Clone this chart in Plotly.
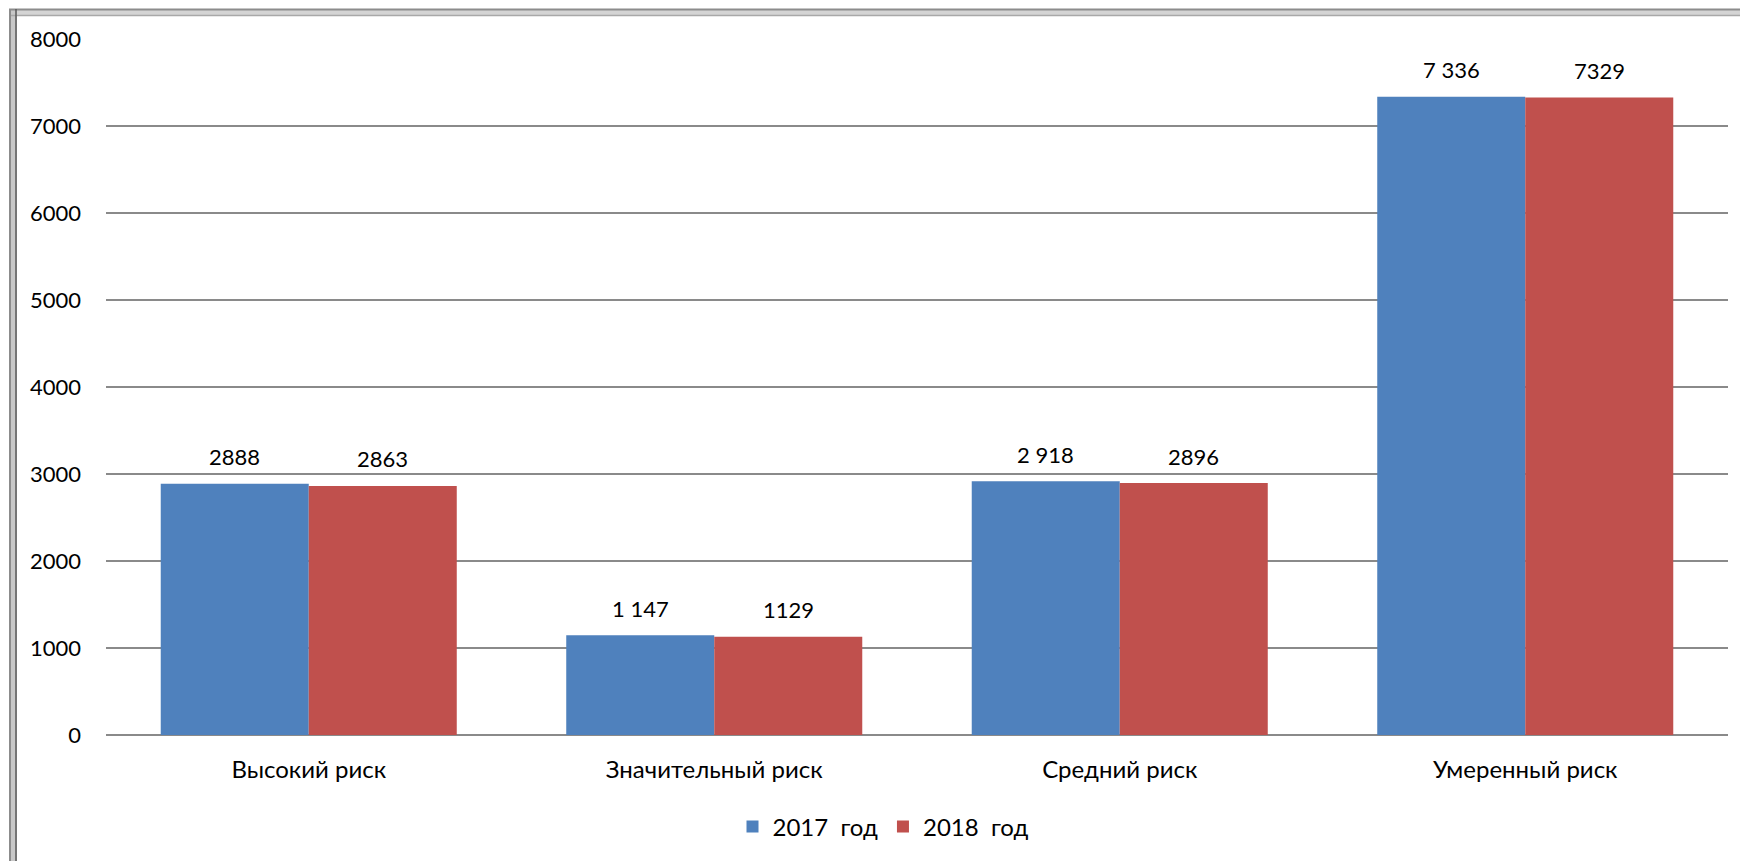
import plotly.graph_objects as go

# Data
categories = ["Высокий риск", "Значительный риск", "Средний риск", "Умеренный риск"]
values_2017 = [2888, 1147, 2918, 7336]
values_2018 = [2863, 1129, 2896, 7329]
labels_2017 = ["2888", "1 147", "2 918", "7 336"]
labels_2018 = ["2863", "1129", "2896", "7329"]
series_names = ["2017  год", "2018  год"]
y_ticks = [0, 1000, 2000, 3000, 4000, 5000, 6000, 7000, 8000]

W, H = 1740, 861
ML, MR, MT, MB = 106, 12, 39, 126
PW, PH = W - ML - MR, H - MT - MB

FONT = "Lato"
BLUE = "#4F81BD"
RED = "#C0504D"
GRID = "#8a8a8a"


def px_x(px):
    return (px - ML) / PW


def px_y(py):
    return (H - MB - py) / PH


fig = go.Figure()
fig.add_bar(x=categories, y=values_2017, name=series_names[0],
            marker=dict(color=BLUE, line=dict(width=0)))
fig.add_bar(x=categories, y=values_2018, name=series_names[1],
            marker=dict(color=RED, line=dict(width=0)))

# value labels above each bar
bar_half = PW / len(categories) * (1 - 0.27) / 4
annotations = []
for cat, v, t in zip(categories, values_2017, labels_2017):
    annotations.append(dict(x=cat, y=v, text=t, xref="x", yref="y", showarrow=False,
                            xshift=-bar_half, yshift=27, yanchor="middle",
                            font=dict(family=FONT, size=22, color="black")))
for cat, v, t in zip(categories, values_2018, labels_2018):
    annotations.append(dict(x=cat, y=v, text=t, xref="x", yref="y", showarrow=False,
                            xshift=bar_half, yshift=27, yanchor="middle",
                            font=dict(family=FONT, size=22, color="black")))

# bevelled frame along the top and left edges
shapes = []
def hline(py, color, w):
    shapes.append(dict(type="line", xref="paper", yref="paper",
                       x0=px_x(9), x1=px_x(W + 5), y0=px_y(py), y1=px_y(py),
                       line=dict(color=color, width=w), layer="above"))
def vline(px, color, w):
    shapes.append(dict(type="line", xref="paper", yref="paper",
                       x0=px_x(px), x1=px_x(px), y0=px_y(9), y1=px_y(H + 5),
                       line=dict(color=color, width=w), layer="above"))

shapes.append(dict(type="rect", xref="paper", yref="paper",
                   x0=px_x(9), x1=px_x(W + 5), y0=px_y(16), y1=px_y(9),
                   fillcolor="#d4d4d4", line=dict(width=0), layer="above"))
shapes.append(dict(type="rect", xref="paper", yref="paper",
                   x0=px_x(9), x1=px_x(17), y0=px_y(H + 5), y1=px_y(9),
                   fillcolor="#c8c8c8", line=dict(width=0), layer="above"))
hline(9.5, "#8c8c8c", 2)
hline(15.5, "#a8a8a8", 1.5)
vline(10, "#8c8c8c", 2)
vline(16, "#5a5a5a", 1.5)

fig.update_layout(
    width=W, height=H,
    margin=dict(l=ML, r=MR, t=MT, b=MB),
    paper_bgcolor="white", plot_bgcolor="white",
    barmode="group", bargap=0.27, bargroupgap=0,
    font=dict(family=FONT, size=20, color="black"),
    showlegend=True,
    legend=dict(orientation="h", x=px_x(883), xanchor="center",
                y=px_y(827), yanchor="middle",
                font=dict(family=FONT, size=24, color="black"),
                itemwidth=30, traceorder="normal"),
    annotations=annotations,
    shapes=shapes,
    xaxis=dict(showline=False, showgrid=False, ticks="",
               tickfont=dict(family=FONT, size=24, color="black"),
               ticklabelstandoff=18),
    yaxis=dict(range=[0, 8000], tickvals=y_ticks, showgrid=True,
               gridcolor=GRID, gridwidth=2, zeroline=True, zerolinecolor=GRID,
               zerolinewidth=2, showline=False, ticks="",
               tickfont=dict(family=FONT, size=22, color="black"),
               ticklabelstandoff=24),
)

fig.write_html("out.html")
